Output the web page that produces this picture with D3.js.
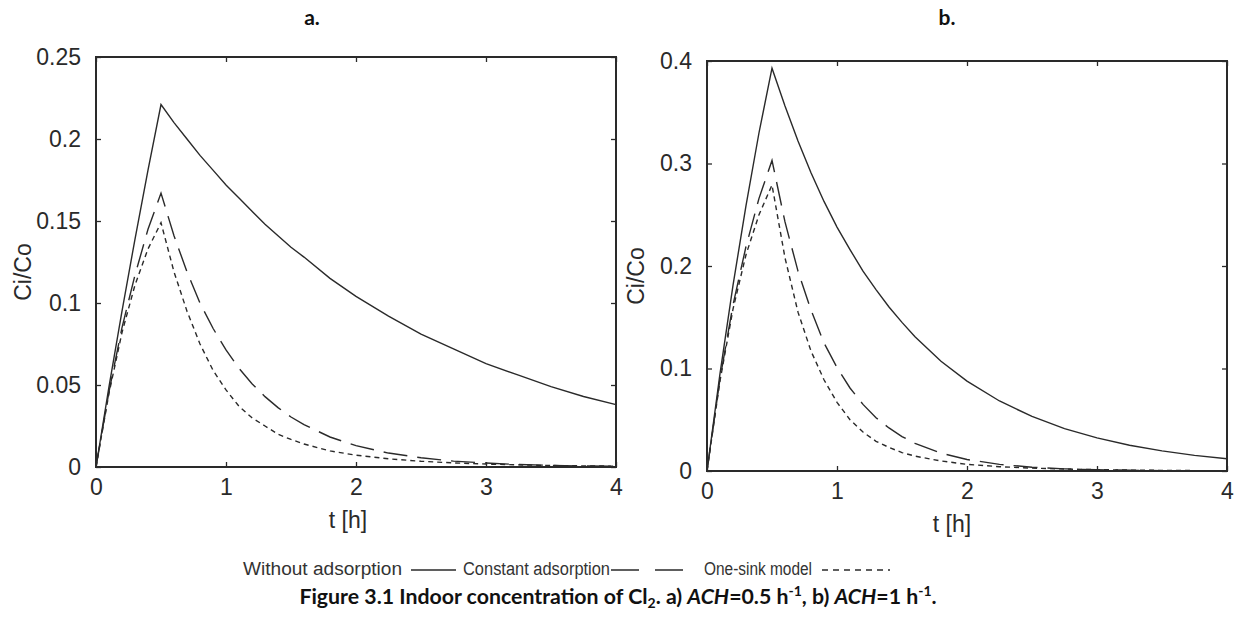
<!DOCTYPE html>
<html>
<head>
<meta charset="utf-8">
<script src="https://cdn.jsdelivr.net/npm/d3@7"></script>
<style>
  html, body { margin: 0; padding: 0; background: #fff; }
  svg { display: block; }
</style>
</head>
<body>
<svg id="chart" width="1236" height="619"></svg>
<script>
// ---------------- DATA ----------------
const timeH = [0, 0.1, 0.2, 0.3, 0.4, 0.5, 0.6, 0.7, 0.8, 0.9, 1.0, 1.1, 1.2, 1.3, 1.4, 1.5, 1.6, 1.8, 2.0, 2.25, 2.5, 2.75, 3.0, 3.25, 3.5, 3.75, 4.0];

// Panel a: ACH = 0.5 h-1
const aWithout  = [0, 0.049, 0.095, 0.139, 0.181, 0.221, 0.210, 0.200, 0.190, 0.181, 0.172, 0.164, 0.156, 0.148, 0.141, 0.134, 0.128, 0.115, 0.104, 0.092, 0.081, 0.072, 0.063, 0.056, 0.049, 0.043, 0.038];
const aConstant = [0, 0.046, 0.085, 0.117, 0.145, 0.167, 0.141, 0.119, 0.100, 0.0846, 0.0714, 0.0602, 0.0508, 0.0429, 0.0362, 0.0305, 0.0258, 0.0183, 0.0130, 0.0085, 0.0056, 0.0036, 0.0024, 0.0015, 0.0010, 0.0006, 0.0004];
const aOneSink  = [0, 0.045, 0.082, 0.111, 0.133, 0.149, 0.119, 0.095, 0.075, 0.059, 0.047, 0.037, 0.030, 0.025, 0.020, 0.0168, 0.0140, 0.0098, 0.0072, 0.0050, 0.0035, 0.0025, 0.0018, 0.0013, 0.0009, 0.0007, 0.0005];

// Panel b: ACH = 1 h-1
const bWithout  = [0, 0.095, 0.181, 0.259, 0.330, 0.393, 0.356, 0.322, 0.291, 0.263, 0.238, 0.216, 0.195, 0.177, 0.160, 0.145, 0.131, 0.107, 0.0877, 0.0683, 0.0532, 0.0414, 0.0323, 0.0251, 0.0196, 0.0152, 0.0119];
const bConstant = [0, 0.090, 0.162, 0.219, 0.266, 0.303, 0.243, 0.195, 0.157, 0.125, 0.101, 0.081, 0.065, 0.052, 0.042, 0.0336, 0.027, 0.0174, 0.0112, 0.0065, 0.0037, 0.0021, 0.0012, 0.0007, 0.0004, 0.0002, 0.0001];
const bOneSink  = [0, 0.088, 0.158, 0.211, 0.250, 0.279, 0.208, 0.155, 0.117, 0.089, 0.067, 0.050, 0.038, 0.029, 0.023, 0.018, 0.0145, 0.0098, 0.0065, 0.0042, 0.0028, 0.0019, 0.0013, 0.0009, 0.0006, 0.0004, 0.0003];

const xTicks  = [0, 1, 2, 3, 4];
const aYTicks = [0, 0.05, 0.1, 0.15, 0.2, 0.25];
const aYLabels = ["0", "0.05", "0.1", "0.15", "0.2", "0.25"];
const bYTicks = [0, 0.1, 0.2, 0.3, 0.4];
const bYLabels = ["0", "0.1", "0.2", "0.3", "0.4"];

const seriesNames = ["Without adsorption", "Constant adsorption", "One-sink model"];
const panelTitles = ["a.", "b."];
const xLabel = "t [h]";
const yLabel = "Ci/Co";

// ---------------- DRAW ----------------
const svg = d3.select("#chart");
const ink = "#2a2a2a";
const tickFont = "'Liberation Sans', Arial, sans-serif";
const dashes = [null, "24,10", "5,4"];

function panel(cfg) {
  const x = d3.scaleLinear().domain([0, 4]).range([cfg.left, cfg.right]);
  const y = d3.scaleLinear().domain([0, cfg.ymax]).range([cfg.bottom, cfg.top]);
  const g = svg.append("g");

  // series
  const line = d3.line().x((d, i) => x(timeH[i])).y(d => y(d));
  cfg.series.forEach((s, k) => {
    g.append("path")
      .attr("d", line(s))
      .attr("fill", "none")
      .attr("stroke", ink)
      .attr("stroke-width", 1.4)
      .attr("stroke-dasharray", dashes[k]);
  });

  // axes (ticks inward, MATLAB style)
  const tk = 5;
  const ax = g.append("g").attr("transform", `translate(0,${cfg.bottom})`)
    .call(d3.axisBottom(x).tickValues(xTicks).tickSizeInner(-tk).tickSizeOuter(0).tickPadding(12).tickFormat(d3.format("d")));
  const axT = g.append("g").attr("transform", `translate(0,${cfg.top})`)
    .call(d3.axisTop(x).tickValues(xTicks).tickSizeInner(-tk).tickSizeOuter(0).tickFormat(""));
  const ay = g.append("g").attr("transform", `translate(${cfg.left},0)`)
    .call(d3.axisLeft(y).tickValues(cfg.yticks).tickSizeInner(-tk).tickSizeOuter(0).tickPadding(15)
      .tickFormat((d, i) => cfg.ylabels[i]));
  const ayR = g.append("g").attr("transform", `translate(${cfg.right},0)`)
    .call(d3.axisRight(y).tickValues(cfg.yticks).tickSizeInner(-tk).tickSizeOuter(0).tickFormat(""));

  [ax, axT, ay, ayR].forEach(a => {
    a.select(".domain").remove();
    a.selectAll(".tick line").attr("stroke", ink).attr("stroke-width", 1.3);
    a.selectAll(".tick text").attr("fill", ink).style("font-family", tickFont).style("font-size", "23px");
  });
  ax.selectAll(".tick text").attr("dy", "0.71em");

  // box
  g.append("rect")
    .attr("x", cfg.left).attr("y", cfg.top)
    .attr("width", cfg.right - cfg.left).attr("height", cfg.bottom - cfg.top)
    .attr("fill", "none").attr("stroke", ink).attr("stroke-width", 2);

  // labels
  g.append("text").text(xLabel)
    .attr("x", cfg.xlabX).attr("y", cfg.bottom + 55)
    .attr("text-anchor", "middle").attr("dominant-baseline", "middle")
    .attr("fill", ink).style("font-family", tickFont).style("font-size", "23px");
  g.append("text").text(yLabel)
    .attr("transform", `translate(${cfg.ylabX},${(cfg.top + cfg.bottom) / 2 + 10}) rotate(-90)`)
    .attr("text-anchor", "middle").attr("dominant-baseline", "middle")
    .attr("fill", ink).style("font-family", tickFont).style("font-size", "23px");
  g.append("text").text(cfg.title)
    .attr("x", cfg.titleX).attr("y", 20)
    .attr("text-anchor", "middle").attr("dominant-baseline", "middle")
    .attr("fill", "#111").style("font-family", "Lato, 'Open Sans', sans-serif")
    .style("font-weight", "bold").style("font-size", "21px");
}

panel({ left: 96, right: 616, top: 57, bottom: 467, ymax: 0.25,
  yticks: aYTicks, ylabels: aYLabels, series: [aWithout, aConstant, aOneSink],
  xlabX: 348, ylabX: 25, title: panelTitles[0], titleX: 312 });
panel({ left: 707, right: 1227, top: 61, bottom: 471, ymax: 0.4,
  yticks: bYTicks, ylabels: bYLabels, series: [bWithout, bConstant, bOneSink],
  xlabX: 952, ylabX: 638, title: panelTitles[1], titleX: 947 });

// ---------------- LEGEND ----------------
const legY = 570;
const leg = svg.append("g").style("font-family", tickFont).style("font-size", "18px").attr("fill", "#333");
const legItems = [
  { text: seriesNames[0], tx: 243, w: 159, lx1: 411, lx2: 456, dash: null },
  { text: seriesNames[1], tx: 463, w: 147, lx1: 611, lx2: 684, dash: "28,16" },
  { text: seriesNames[2], tx: 704, w: 108, lx1: 822, lx2: 890, dash: "6,5" }
];
legItems.forEach(it => {
  leg.append("text").text(it.text).attr("x", it.tx).attr("y", legY)
    .attr("dominant-baseline", "middle")
    .attr("textLength", it.w).attr("lengthAdjust", "spacingAndGlyphs");
  leg.append("line").attr("x1", it.lx1).attr("x2", it.lx2).attr("y1", legY).attr("y2", legY)
    .attr("stroke", ink).attr("stroke-width", 1.4).attr("stroke-dasharray", it.dash);
});

// ---------------- CAPTION ----------------
const cap = svg.append("text").attr("x", 618).attr("y", 604).attr("text-anchor", "middle")
  .attr("fill", "#111").style("font-family", "Lato, 'Open Sans', sans-serif")
  .style("font-weight", "bold").style("font-size", "21.3px");
cap.append("tspan").text("Figure 3.1 Indoor concentration of Cl");
cap.append("tspan").text("2").style("font-size", "14px").attr("dy", 4);
cap.append("tspan").text(". a) ").attr("dy", -4);
cap.append("tspan").text("ACH").style("font-style", "italic");
cap.append("tspan").text("=0.5 h");
cap.append("tspan").text("-1").style("font-size", "14px").attr("dy", -8);
cap.append("tspan").text(", b) ").attr("dy", 8);
cap.append("tspan").text("ACH").style("font-style", "italic");
cap.append("tspan").text("=1 h");
cap.append("tspan").text("-1").style("font-size", "14px").attr("dy", -8);
cap.append("tspan").text(".").attr("dy", 8);
</script>
</body>
</html>
